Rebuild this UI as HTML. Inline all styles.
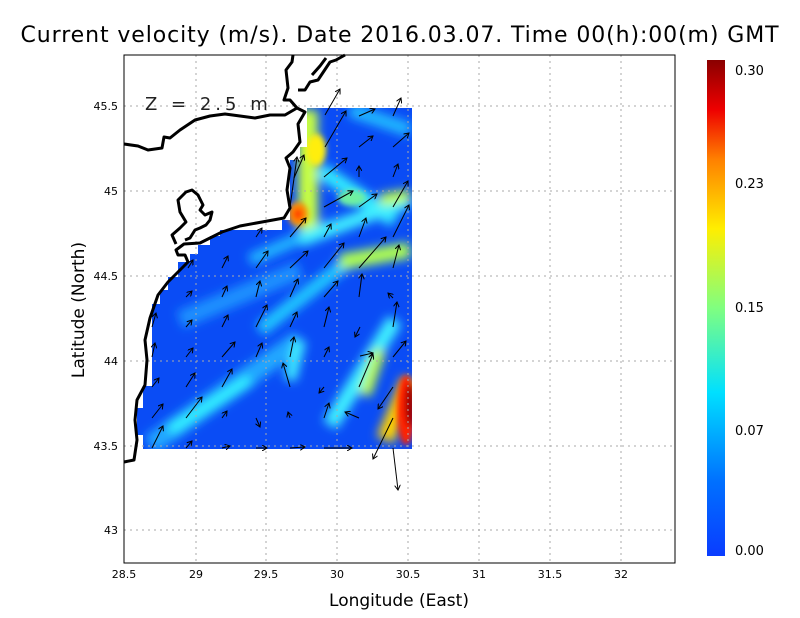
<!DOCTYPE html>
<html><head><meta charset="utf-8"><style>
body{margin:0;background:#fff;}
svg{display:block;font-family:"DejaVu Sans","Liberation Sans",sans-serif;}
</style></head><body>
<svg width="800" height="618" viewBox="0 0 800 618" xmlns="http://www.w3.org/2000/svg">
<defs>
<clipPath id="dc"><polygon points="307,108 412,108 412,449 143,449 143,435 137,435 137,408 143,408 143,386 152,386 152,304 160,304 160,290 168,290 168,277 178,277 178,262 190,262 190,254 198,254 198,245 210,245 210,236 220,236 220,230 282,230 282,220 290,220 290,160 300,160 300,147 307,147"/></clipPath>
<filter id="bl" x="-50%" y="-50%" width="200%" height="200%"><feGaussianBlur stdDeviation="5"/></filter>
<filter id="bl2" x="-50%" y="-50%" width="200%" height="200%"><feGaussianBlur stdDeviation="3"/></filter>
<linearGradient id="cb" x1="0" y1="1" x2="0" y2="0">
<stop offset="0" stop-color="#0a3cff"/><stop offset="0.15" stop-color="#0070ff"/><stop offset="0.33" stop-color="#00e0ff"/><stop offset="0.5" stop-color="#80ff80"/><stop offset="0.66" stop-color="#ffee00"/><stop offset="0.8" stop-color="#ff8000"/><stop offset="0.9" stop-color="#ee0000"/><stop offset="1" stop-color="#8a0000"/>
</linearGradient>
<marker id="ah" markerWidth="6" markerHeight="6" refX="5" refY="3" orient="auto" markerUnits="userSpaceOnUse"><path d="M0,0 L5,3 L0,6" fill="none" stroke="#000" stroke-width="1"/></marker>
</defs>
<text x="400" y="42" text-anchor="middle" font-size="22" letter-spacing="0.9" fill="#000">Current velocity (m/s). Date 2016.03.07. Time 00(h):00(m) GMT</text>
<g clip-path="url(#dc)">
<rect x="130" y="100" width="290" height="360" fill="#0a4cf5"/>
<g filter="url(#bl)">
<line x1="150" y1="445" x2="300" y2="340" stroke="#20a8ff" stroke-width="20"/>
<line x1="170" y1="430" x2="250" y2="380" stroke="#30f0ff" stroke-width="12"/>
<line x1="180" y1="320" x2="300" y2="270" stroke="#1f90ff" stroke-width="18"/>
<line x1="260" y1="330" x2="350" y2="260" stroke="#20c8ff" stroke-width="14"/>
<line x1="250" y1="260" x2="330" y2="225" stroke="#20b8ff" stroke-width="12"/>
<line x1="290" y1="380" x2="300" y2="340" stroke="#40f0ff" stroke-width="12"/>
<line x1="330" y1="425" x2="395" y2="320" stroke="#40f0ff" stroke-width="16"/>
<line x1="365" y1="395" x2="380" y2="350" stroke="#c0ff40" stroke-width="12"/>
<line x1="308" y1="110" x2="308" y2="230" stroke="#c8ff40" stroke-width="20"/>
<line x1="320" y1="170" x2="395" y2="220" stroke="#30e8ff" stroke-width="16"/>
<line x1="300" y1="240" x2="410" y2="200" stroke="#40f0ff" stroke-width="14"/>
<line x1="340" y1="262" x2="410" y2="250" stroke="#b0ff50" stroke-width="16"/>
<line x1="350" y1="110" x2="410" y2="130" stroke="#20b8ff" stroke-width="14"/>
<line x1="380" y1="200" x2="410" y2="195" stroke="#c0ff40" stroke-width="12"/>
<line x1="385" y1="440" x2="410" y2="380" stroke="#ffd000" stroke-width="18"/>
</g>
<g filter="url(#bl2)">
<ellipse cx="316" cy="150" rx="10" ry="16" fill="#ffee10"/>
<ellipse cx="298" cy="214" rx="10" ry="12" fill="#ff9000"/>
<ellipse cx="298" cy="214" rx="5" ry="6" fill="#ff4000"/>
<ellipse cx="406" cy="410" rx="9" ry="35" fill="#ff2000"/>
<ellipse cx="410" cy="405" rx="5" ry="22" fill="#a00000"/>
<ellipse cx="352" cy="198" rx="14" ry="8" fill="#70f0a0"/>
</g>
</g>
<g stroke="#aaa" stroke-width="1" stroke-dasharray="2,4" fill="none">
<line x1="196" y1="55" x2="196" y2="563"/><line x1="266" y1="55" x2="266" y2="563"/><line x1="337" y1="55" x2="337" y2="563"/><line x1="408" y1="55" x2="408" y2="563"/><line x1="479" y1="55" x2="479" y2="563"/><line x1="550" y1="55" x2="550" y2="563"/><line x1="621" y1="55" x2="621" y2="563"/>
<line x1="124" y1="106" x2="675" y2="106"/><line x1="124" y1="191" x2="675" y2="191"/><line x1="124" y1="276" x2="675" y2="276"/><line x1="124" y1="361" x2="675" y2="361"/><line x1="124" y1="446" x2="675" y2="446"/><line x1="124" y1="530" x2="675" y2="530"/>
</g>
<g fill="none" stroke="#000" stroke-width="3" stroke-linejoin="round">
<path d="M124,462 L134,460 L137,440 L135,420 L137,400 L145,385 L147,360 L145,340 L150,318 L158,295 L168,282 L180,270 L188,262 L185,255 L178,255 L176,250 L184,244 L200,243 L210,238 L222,232 L240,226 L262,222 L284,218 L290,208 L287,190 L290,168 L286,158 L293,152 L300,142 L298,124 L305,112 L297,108"/>
<path d="M297,108 L285,115 L270,115 L255,118 L240,116 L225,114 L210,116 L195,120 L180,130 L170,138 L164,137 L162,148 L148,150 L138,146 L124,144"/>
<path d="M176,244 L172,235 L180,228 L186,222 L180,212 L178,200 L186,192 L192,190 L198,195 L203,205 L200,210 L205,215 L212,212 L210,220 L206,225 L200,228 L195,230 L190,238 L185,240"/>
<path d="M297,108 L290,100 L284,100 L288,88 L286,70 L292,62 L293,55"/>
<path d="M298,90 L305,90 L310,82 L318,80 L330,62 L336,60 L345,55"/>
<path d="M312,75 L320,66 L326,58"/>
</g>
<g stroke="#000" stroke-width="1" fill="none" marker-end="url(#ah)">
<path d="M325,115L340,89"/><path d="M359,116L375,109"/><path d="M393,116L401,98"/>
<path d="M325,147L346,111"/><path d="M359,147L373,136"/><path d="M393,147L409,133"/>
<path d="M294,178L304,155"/><path d="M324,177L347,158"/><path d="M359,177L359,166"/><path d="M393,177L398,164"/>
<path d="M290,207L297,157"/><path d="M324,207L353,191"/><path d="M359,207L377,194"/><path d="M393,207L408,181"/>
<path d="M290,237L306,218"/><path d="M256,237L262,228"/><path d="M324,237L331,224"/><path d="M359,237L366,218"/><path d="M393,237L409,205"/>
<path d="M188,268L193,260"/><path d="M222,268L228,256"/><path d="M256,268L268,251"/><path d="M290,268L308,251"/><path d="M324,268L344,243"/><path d="M359,268L386,237"/><path d="M393,268L399,245"/>
<path d="M186,297L192,291"/><path d="M222,297L227,286"/><path d="M256,297L260,281"/><path d="M290,297L298,279"/><path d="M324,297L338,281"/><path d="M359,297L362,274"/><path d="M393,298L388,293"/>
<path d="M152,327L156,313"/><path d="M186,327L192,320"/><path d="M222,327L228,315"/><path d="M256,327L267,305"/><path d="M290,327L297,312"/><path d="M324,327L329,307"/><path d="M360,327L355,337"/><path d="M393,327L397,302"/>
<path d="M152,357L155,343"/><path d="M186,357L193,348"/><path d="M222,357L235,342"/><path d="M256,357L262,343"/><path d="M290,357L294,337"/><path d="M324,357L329,347"/><path d="M359,387L373,354"/><path d="M360,356L373,353"/><path d="M393,357L406,341"/>
<path d="M152,387L159,378"/><path d="M186,387L195,373"/><path d="M222,387L232,369"/><path d="M290,387L283,363"/><path d="M324,387L319,393"/>
<path d="M152,418L163,404"/><path d="M186,418L202,397"/><path d="M222,418L227,411"/><path d="M256,418L260,427"/><path d="M290,418L288,412"/><path d="M324,418L329,403"/><path d="M359,418L345,412"/><path d="M393,387L378,409"/>
<path d="M152,448L163,426"/><path d="M186,448L192,441"/><path d="M222,448L230,446"/><path d="M256,448L267,448"/><path d="M290,448L305,447"/><path d="M324,448L352,448"/><path d="M393,418L373,459"/><path d="M393,448L398,490"/>
</g>
<text x="145" y="110" font-size="18" fill="#222" letter-spacing="4">Z = 2.5 m</text>
<rect x="124" y="55" width="551" height="508" fill="none" stroke="#000" stroke-width="1"/>
<g font-size="11" fill="#000" text-anchor="middle">
<text x="124" y="578">28.5</text><text x="196" y="578">29</text><text x="266" y="578">29.5</text><text x="337" y="578">30</text><text x="408" y="578">30.5</text><text x="479" y="578">31</text><text x="550" y="578">31.5</text><text x="621" y="578">32</text>
</g>
<g font-size="11" fill="#000" text-anchor="end">
<text x="118" y="110">45.5</text><text x="118" y="195">45</text><text x="118" y="280">44.5</text><text x="118" y="365">44</text><text x="118" y="450">43.5</text><text x="118" y="534">43</text>
</g>
<text x="399" y="606" text-anchor="middle" font-size="17">Longitude (East)</text>
<text transform="translate(84,310) rotate(-90)" text-anchor="middle" font-size="17">Latitude (North)</text>
<rect x="707" y="60" width="18" height="496" fill="url(#cb)"/>
<g font-size="13" fill="#000">
<text x="735" y="75">0.30</text><text x="735" y="188">0.23</text><text x="735" y="312">0.15</text><text x="735" y="435">0.07</text><text x="735" y="555">0.00</text>
</g>
</svg>
</body></html>
